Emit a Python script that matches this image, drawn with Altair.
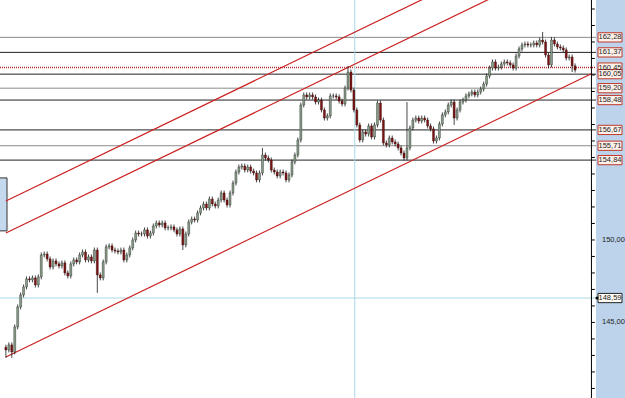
import altair as alt
import pandas as pd

# ---- price series (closes, one bar every step) ----
closes = [
    143.33, 143.64, 143.21, 144.73, 145.94, 146.67, 147.15, 147.64, 147.58, 147.70,
    147.27, 147.76, 149.09, 149.15, 148.85, 148.36, 148.73, 148.55, 148.42, 148.61,
    148.00, 147.82, 148.55, 148.79, 148.67, 149.09, 149.27, 148.79, 148.97, 148.73,
    149.39, 147.88, 147.70, 148.67, 149.58, 149.64, 149.39, 149.33, 149.27, 149.39,
    148.79, 149.09, 149.52, 150.00, 150.42, 150.36, 150.36, 150.61, 150.24, 150.42,
    150.85, 151.03, 150.91, 151.03, 150.73, 150.73, 150.79, 150.61, 150.36, 150.67,
    149.70, 150.36, 151.09, 151.27, 151.21, 151.64, 151.94, 152.18, 151.94, 152.48,
    152.18, 152.06, 152.42, 152.85, 152.42, 152.12, 152.85, 153.45, 154.12, 154.42,
    154.48, 154.24, 154.42, 154.18, 154.06, 153.64, 154.06, 155.15, 154.97, 154.85,
    154.24, 154.12, 153.88, 154.12, 154.06, 153.64, 153.94, 154.73, 155.15, 156.06,
    158.18, 158.79, 158.67, 158.79, 158.67, 158.36, 158.48, 157.88, 157.39, 157.52,
    158.73, 158.73, 158.67, 158.42, 158.24, 159.21, 160.18, 159.09, 157.88, 156.97,
    156.06, 156.55, 156.42, 156.91, 156.24, 156.97, 158.30, 157.27, 155.88, 155.76,
    156.18, 155.94, 155.82, 155.58, 155.27, 154.97, 155.58, 156.79, 157.27, 157.39,
    157.21, 157.39, 157.27, 156.91, 156.73, 156.00, 156.18, 157.03, 157.58, 157.76,
    158.18, 158.36, 157.39, 157.88, 158.36, 158.48, 158.73, 158.85, 158.97, 158.79,
    158.97, 159.15, 159.45, 159.94, 160.42, 160.79, 160.42, 160.48, 160.67, 160.79,
    160.73, 160.61, 160.42, 161.15, 161.58, 161.82, 161.88, 161.82, 161.82, 161.94,
    161.82, 162.12, 162.00, 161.21, 160.61, 162.12, 161.88, 161.70, 161.64, 161.52,
    161.03, 161.09, 160.55, 160.30,
]
first_open = 143.50
wick = 0.15
high_over = {87: 155.58, 116: 160.55, 136: 158.36, 182: 162.61, 185: 162.30}
low_over = {0: 142.85, 2: 142.85, 31: 146.79, 60: 149.39, 152: 156.97, 184: 160.40, 192: 160.18}

# ---- horizontal levels ----
level_prices = [162.28, 161.37, 160.45, 160.05, 159.20, 158.48, 156.67, 155.71, 154.84]
level_labels = ["162,28", "161,37", "160,45", "160,05", "159,20", "158,48", "156,67", "155,71", "154,84"]
level_colors = ["#8a8a8a", "#222222", "#b03030", "#222222", "#8a8a8a", "#222222", "#222222", "#8a8a8a", "#222222"]
level_dash = [0, 0, 1, 0, 0, 0, 0, 0, 0]

# ---- right axis ----
tick_values = list(range(141, 165))
axis_label_values = [150, 145]
axis_label_texts = ["150,00", "145,00"]

# ---- channel lines (bar index, price) ----
chan_x0 = [0, 0, 0]
chan_x1 = [198.7, 198.7, 198.7]
chan_p0 = [152.36, 150.42, 142.91]
chan_p1 = [169.55, 167.61, 160.09]

cross_bar = 118.3
cross_price = 146.48
cross_label = "148,59"

Y_MIN, Y_MAX = 140.42, 164.545
X_MIN, X_MAX = -0.3, 198.4
W, H = 596, 398

rows = []
prev = first_open
for i, c in enumerate(closes):
    o = prev
    hi = high_over.get(i, max(o, c) + wick)
    lo = low_over.get(i, min(o, c) - wick)
    rows.append({"i": i, "open": o, "close": c, "high": hi, "low": lo, "up": c >= o})
    prev = c
candles = pd.DataFrame(rows)

xs = alt.Scale(domain=[X_MIN, X_MAX], nice=False, zero=False)
ys = alt.Scale(domain=[Y_MIN, Y_MAX], nice=False, zero=False)
X = lambda f: alt.X(f, type="quantitative", scale=xs, axis=None)
Y = lambda f: alt.Y(f, type="quantitative", scale=ys, axis=None)

panel = alt.Chart(pd.DataFrame({"a": [0]})).mark_rect(color="#bcd3eb").encode(
    x=alt.value(W), x2=alt.value(625), y=alt.value(0), y2=alt.value(H))

# axis line and ticks, placed at the right end of the bar scale
axd = pd.DataFrame({"p": tick_values})
axd["x0"] = X_MAX
axd["x1"] = X_MAX + 1.3
domain_line = alt.Chart(pd.DataFrame({"x0": [X_MAX + 0.15]})).mark_rule(color="#000000", strokeWidth=1).encode(
    x=X("x0"), y=alt.value(0), y2=alt.value(H))
ticks = alt.Chart(axd).mark_rule(color="#000000", strokeWidth=1).encode(
    x=X("x0"), x2="x1", y=Y("p"))

left_box = alt.Chart(pd.DataFrame({"a": [0]})).mark_rect(fill="#c5d9ee", stroke="#333", strokeWidth=1).encode(
    x=alt.value(-1), x2=alt.value(7), y=Y("p1"), y2="p2:Q"
).transform_calculate(p1="153.76", p2="150.55")

lv = pd.DataFrame({"p": level_prices, "lab": level_labels, "col": level_colors, "dash": level_dash})
levels_solid = alt.Chart(lv).transform_filter("datum.dash == 0").mark_rule(strokeWidth=1).encode(
    x=alt.value(0), x2=alt.value(W), y=Y("p"), color=alt.Color("col:N", scale=None))
levels_dot = alt.Chart(lv).transform_filter("datum.dash == 1").mark_rule(strokeWidth=1.5, strokeDash=[1, 1]).encode(
    x=alt.value(0), x2=alt.value(W), y=Y("p"), color=alt.Color("col:N", scale=None))

cross_v = alt.Chart(pd.DataFrame({"b": [cross_bar]})).mark_rule(color="#a8d8e6", strokeWidth=1).encode(
    x=X("b"), y=alt.value(0), y2=alt.value(H))
cross_h = alt.Chart(pd.DataFrame({"p": [cross_price]})).mark_rule(color="#a8d8e6", strokeWidth=1).encode(
    x=alt.value(0), x2=alt.value(W), y=Y("p"))

ch = pd.DataFrame({"x0": chan_x0, "x1": chan_x1, "p0": chan_p0, "p1": chan_p1})
channel = alt.Chart(ch).mark_rule(color="#cc2020", strokeWidth=1.2, clip=True).encode(
    x=X("x0"), x2="x1", y=Y("p0"), y2="p1:Q")

wicks = alt.Chart(candles).mark_rule(color="#1a1a1a", strokeWidth=0.8).encode(
    x=X("i"), y=Y("low"), y2="high:Q")
bodies = alt.Chart(candles).mark_bar(width=2, strokeWidth=0.4).encode(
    x=X("i"), y=Y("open"), y2="close:Q",
    fill=alt.condition("datum.up", alt.value("#8c9c8c"), alt.value("#7a1414")),
    stroke=alt.condition("datum.up", alt.value("#1e2a1e"), alt.value("#3a0808")))

ax = pd.DataFrame({"p": axis_label_values, "lab": axis_label_texts})
axis_text = alt.Chart(ax).mark_text(fontSize=7.5, font="Liberation Sans", color="#222", align="left",
                                    baseline="middle").encode(x=alt.value(602), y=Y("p"), text="lab:N")

boxes = alt.Chart(lv).transform_calculate(b1="datum.p - 0.28", b2="datum.p + 0.28").mark_rect(
    fill="#fdf1ea", stroke="#c0392b", strokeWidth=1).encode(
    x=alt.value(598), x2=alt.value(622), y=Y("b1"), y2="b2:Q")
box_text = alt.Chart(lv).mark_text(fontSize=7.5, font="Liberation Sans", color="#222", align="center",
                                   baseline="middle").encode(
    x=alt.value(610), y=Y("p"), text="lab:N")

cl = pd.DataFrame({"p": [cross_price], "lab": [cross_label]})
cbox = alt.Chart(cl).transform_calculate(b1="datum.p - 0.28", b2="datum.p + 0.28").mark_rect(
    fill="#fffdf5", stroke="#222", strokeWidth=1).encode(
    x=alt.value(598), x2=alt.value(622), y=Y("b1"), y2="b2:Q")
ctext = alt.Chart(cl).mark_text(fontSize=7.5, font="Liberation Sans", color="#222", align="center",
                                baseline="middle").encode(x=alt.value(610), y=Y("p"), text="lab:N")
cdot = alt.Chart(cl).mark_point(filled=True, size=10, color="#000", opacity=1).encode(
    x=alt.value(597), y=Y("p"))

chart = alt.layer(
    panel, left_box, levels_solid, levels_dot, cross_v, cross_h, channel, wicks, bodies,
    domain_line, ticks, axis_text, boxes, box_text, cbox, ctext, cdot
).properties(
    width=W, height=H, autosize="none",
    padding={"left": 0, "top": 0, "right": 29, "bottom": 0},
    background="white"
).configure_view(stroke=None)

chart.save("out.html", embed_options={"renderer": "svg", "actions": False})
